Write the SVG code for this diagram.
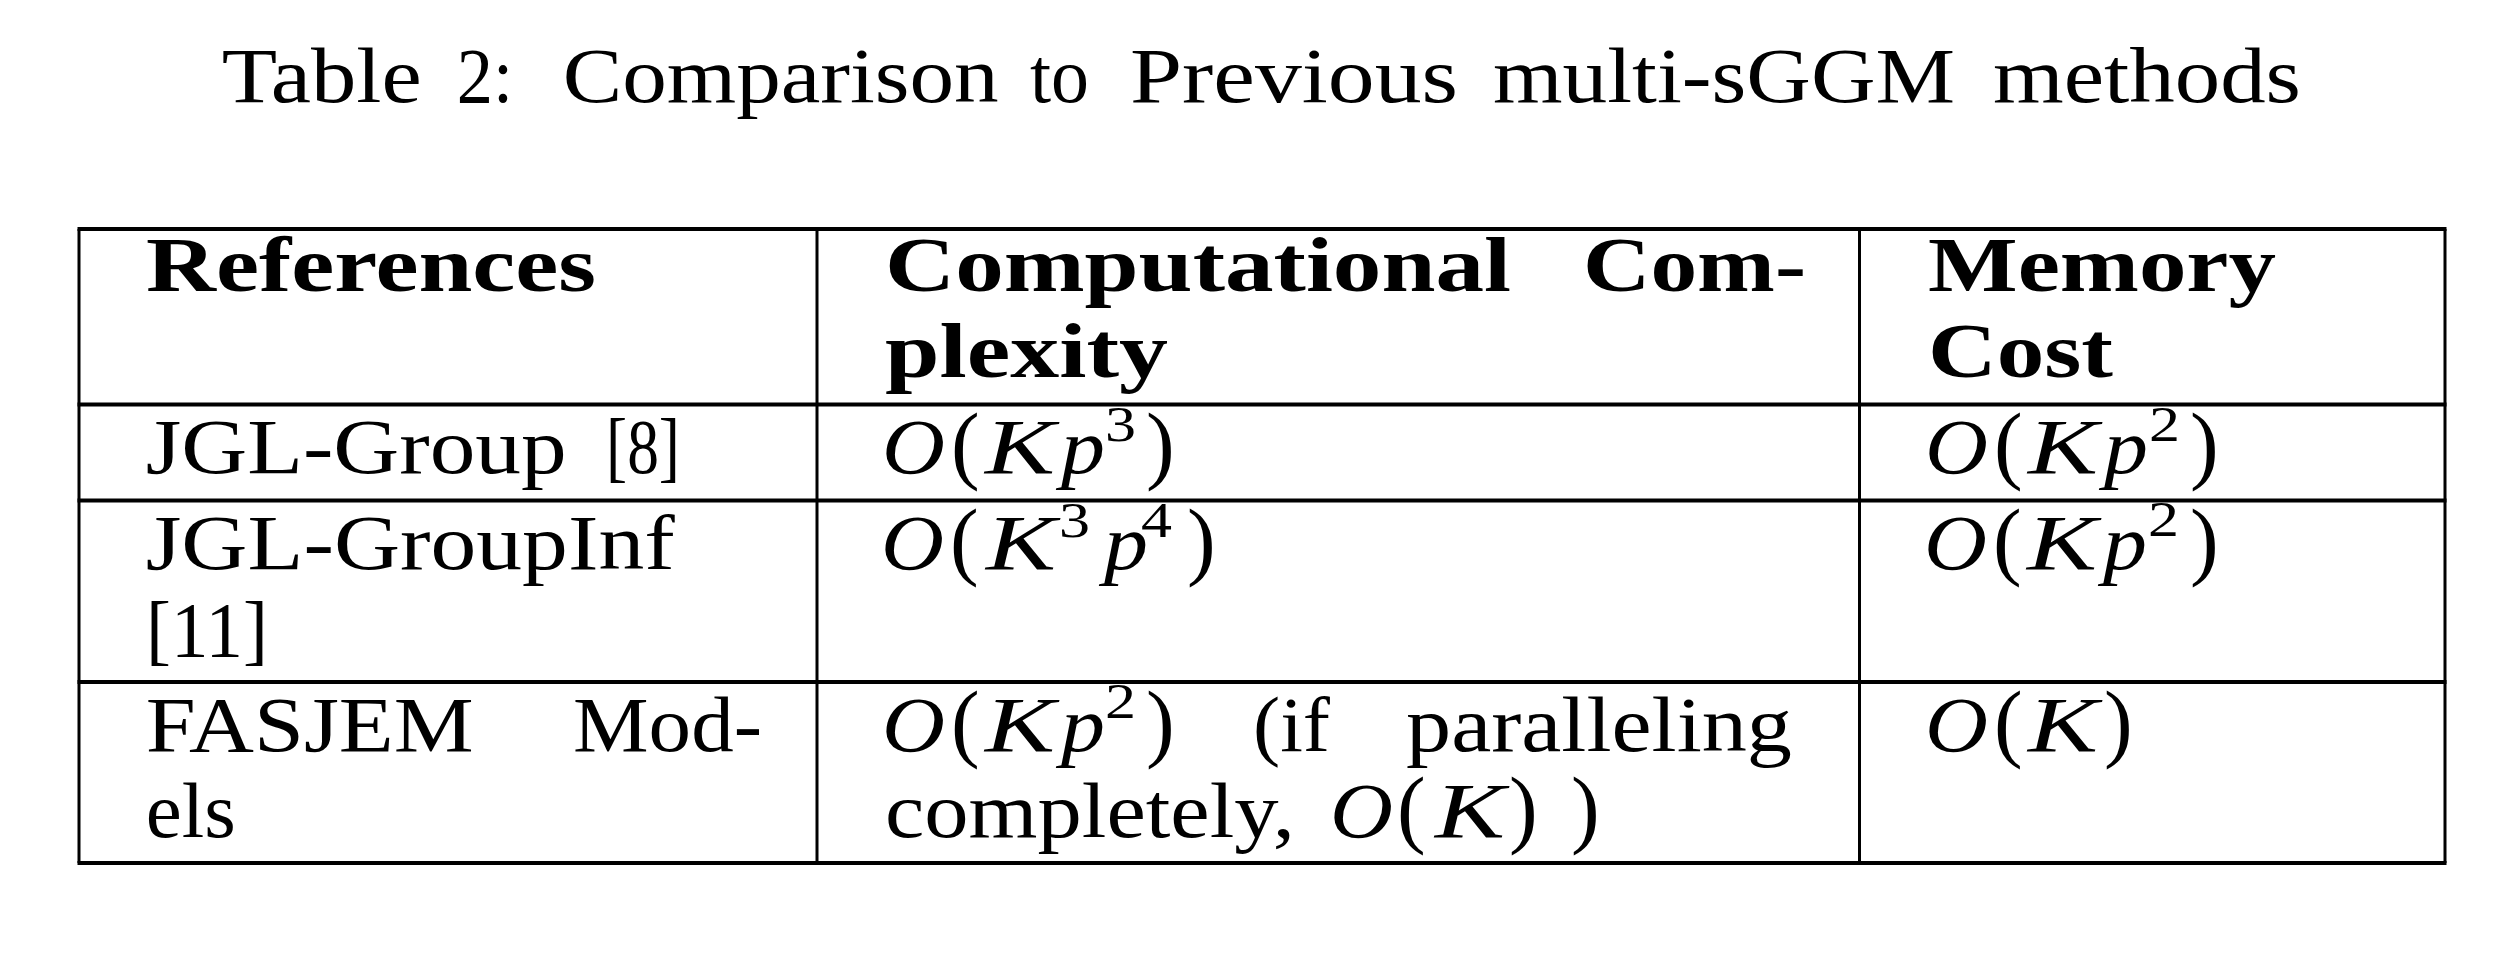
<svg xmlns="http://www.w3.org/2000/svg" width="2520" height="958" viewBox="0 0 2520 958">
<style>
text{font-family:"Liberation Serif","Times New Roman",serif;font-size:78px;fill:#000}
.b{font-weight:bold}
.i{font-style:italic}
.s{font-size:50px}
.p{font-size:86px}
.h{stroke:#000;stroke-width:4;fill:none}
.v{stroke:#000;stroke-width:3;fill:none}
</style>
<rect x="0" y="0" width="2520" height="958" fill="#fff"/>
<g id="title">
<text x="221.7" y="101.7" textLength="200" lengthAdjust="spacingAndGlyphs">Table</text>
<text x="456.7" y="101.7" textLength="56.3" lengthAdjust="spacingAndGlyphs">2:</text>
<text x="562.7" y="101.7" textLength="436" lengthAdjust="spacingAndGlyphs">Comparison</text>
<text x="1030" y="101.7" textLength="59" lengthAdjust="spacingAndGlyphs">to</text>
<text x="1130" y="101.7" textLength="328" lengthAdjust="spacingAndGlyphs">Previous</text>
<text x="1493" y="101.7" textLength="462" lengthAdjust="spacingAndGlyphs">multi-sGGM</text>
<text x="1993" y="101.7" textLength="308" lengthAdjust="spacingAndGlyphs">methods</text>
</g>
<g id="grid">
<line class="h" x1="77.5" y1="229" x2="2446.5" y2="229"/>
<line class="h" x1="77.5" y1="404.5" x2="2446.5" y2="404.5"/>
<line class="h" x1="77.5" y1="500.5" x2="2446.5" y2="500.5"/>
<line class="h" x1="77.5" y1="682" x2="2446.5" y2="682"/>
<line class="h" x1="77.5" y1="863" x2="2446.5" y2="863"/>
<line class="v" x1="79" y1="229" x2="79" y2="863"/>
<line class="v" x1="817" y1="229" x2="817" y2="863"/>
<line class="v" x1="1859.5" y1="229" x2="1859.5" y2="863"/>
<line class="v" x1="2445" y1="229" x2="2445" y2="863"/>
</g>
<g id="header-references">
<text class="b" x="146" y="290.7" textLength="450" lengthAdjust="spacingAndGlyphs">References</text>
</g>
<g id="header-complexity">
<text class="b" x="885" y="290.7" textLength="626" lengthAdjust="spacingAndGlyphs">Computational</text>
<text class="b" x="1583" y="290.7" textLength="223" lengthAdjust="spacingAndGlyphs">Com-</text>
<text class="b" x="885" y="376.7" textLength="283" lengthAdjust="spacingAndGlyphs">plexity</text>
</g>
<g id="header-memory">
<text class="b" x="1928" y="290.7" textLength="348" lengthAdjust="spacingAndGlyphs">Memory</text>
<text class="b" x="1928" y="376.7" textLength="185" lengthAdjust="spacingAndGlyphs">Cost</text>
</g>
<g id="row1-ref">
<text x="145.7" y="473.3" textLength="421" lengthAdjust="spacingAndGlyphs">JGL-Group</text>
<text x="606" y="473.3" textLength="74" lengthAdjust="spacingAndGlyphs">[8]</text>
</g>
<g id="row1-complexity">
<text class="i" x="882" y="473.3" textLength="63" lengthAdjust="spacingAndGlyphs">O</text>
<text class="p" x="951" y="473.3">(</text>
<text class="i" x="985" y="473.3" textLength="70" lengthAdjust="spacingAndGlyphs">K</text>
<text class="i" x="1061" y="473.3" textLength="44" lengthAdjust="spacingAndGlyphs">p</text>
<text class="s" x="1105" y="440.7" textLength="31" lengthAdjust="spacingAndGlyphs">3</text>
<text class="p" x="1146" y="473.3">)</text>
</g>
<g id="row1-memory">
<text class="i" x="1925" y="473.3" textLength="63" lengthAdjust="spacingAndGlyphs">O</text>
<text class="p" x="1994" y="473.3">(</text>
<text class="i" x="2028" y="473.3" textLength="70" lengthAdjust="spacingAndGlyphs">K</text>
<text class="i" x="2104" y="473.3" textLength="44" lengthAdjust="spacingAndGlyphs">p</text>
<text class="s" x="2149" y="440.7" textLength="31" lengthAdjust="spacingAndGlyphs">2</text>
<text class="p" x="2190" y="473.3">)</text>
</g>
<g id="row2-ref">
<text x="145.7" y="569" textLength="529" lengthAdjust="spacingAndGlyphs">JGL-GroupInf</text>
<text x="146" y="655.7" textLength="122" lengthAdjust="spacingAndGlyphs">[11]</text>
</g>
<g id="row2-complexity">
<text class="i" x="881" y="569" textLength="63" lengthAdjust="spacingAndGlyphs">O</text>
<text class="p" x="950" y="569">(</text>
<text class="i" x="986" y="569" textLength="70" lengthAdjust="spacingAndGlyphs">K</text>
<text class="s" x="1059" y="537.3" textLength="31" lengthAdjust="spacingAndGlyphs">3</text>
<text class="i" x="1104" y="569" textLength="44" lengthAdjust="spacingAndGlyphs">p</text>
<text class="s" x="1141" y="537.3" textLength="31" lengthAdjust="spacingAndGlyphs">4</text>
<text class="p" x="1187" y="569">)</text>
</g>
<g id="row2-memory">
<text class="i" x="1924" y="569" textLength="63" lengthAdjust="spacingAndGlyphs">O</text>
<text class="p" x="1993" y="569">(</text>
<text class="i" x="2027" y="569" textLength="70" lengthAdjust="spacingAndGlyphs">K</text>
<text class="i" x="2103" y="569" textLength="44" lengthAdjust="spacingAndGlyphs">p</text>
<text class="s" x="2148" y="536.3" textLength="31" lengthAdjust="spacingAndGlyphs">2</text>
<text class="p" x="2190" y="569">)</text>
</g>
<g id="row3-ref">
<text x="145.7" y="750.7" textLength="328" lengthAdjust="spacingAndGlyphs">FASJEM</text>
<text x="573" y="750.7" textLength="189" lengthAdjust="spacingAndGlyphs">Mod-</text>
<text x="145.7" y="836.7" textLength="90" lengthAdjust="spacingAndGlyphs">els</text>
</g>
<g id="row3-complexity">
<text class="i" x="882" y="750.7" textLength="63" lengthAdjust="spacingAndGlyphs">O</text>
<text class="p" x="951" y="750.7">(</text>
<text class="i" x="985" y="750.7" textLength="70" lengthAdjust="spacingAndGlyphs">K</text>
<text class="i" x="1061" y="750.7" textLength="44" lengthAdjust="spacingAndGlyphs">p</text>
<text class="s" x="1105" y="718" textLength="31" lengthAdjust="spacingAndGlyphs">2</text>
<text class="p" x="1146" y="750.7">)</text>
<text x="1253" y="750.7" textLength="77" lengthAdjust="spacingAndGlyphs">(if</text>
<text x="1406" y="750.7" textLength="386" lengthAdjust="spacingAndGlyphs">paralleling</text>
<text x="885" y="836.7" textLength="410" lengthAdjust="spacingAndGlyphs">completely,</text>
<text class="i" x="1330" y="836.7" textLength="63" lengthAdjust="spacingAndGlyphs">O</text>
<text class="p" x="1397" y="836.7">(</text>
<text class="i" x="1435" y="836.7" textLength="70" lengthAdjust="spacingAndGlyphs">K</text>
<text class="p" x="1509" y="836.7">)</text>
<text class="p" x="1571" y="836.7">)</text>
</g>
<g id="row3-memory">
<text class="i" x="1925" y="750.7" textLength="63" lengthAdjust="spacingAndGlyphs">O</text>
<text class="p" x="1994" y="750.7">(</text>
<text class="i" x="2028" y="750.7" textLength="70" lengthAdjust="spacingAndGlyphs">K</text>
<text class="p" x="2104" y="750.7">)</text>
</g>
</svg>
